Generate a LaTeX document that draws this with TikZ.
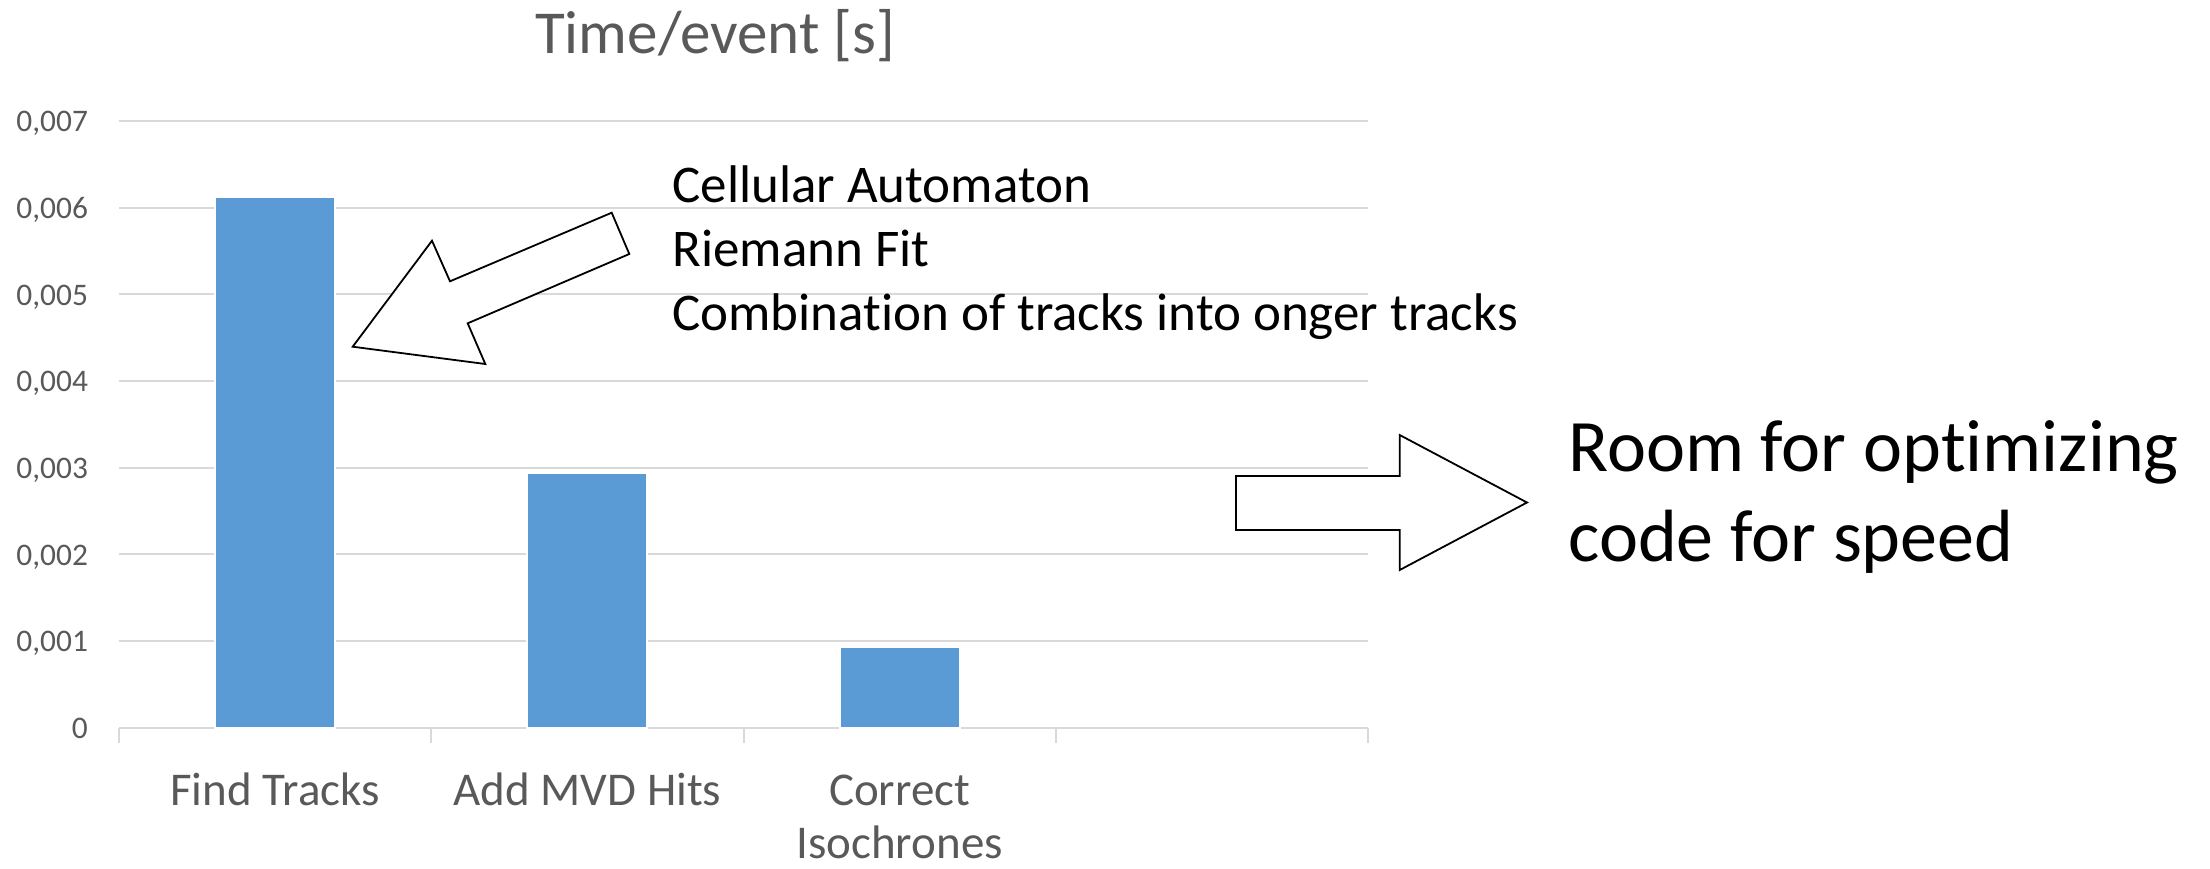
\documentclass[tikz,border=0pt]{standalone}
\usepackage{fontspec}
\setmainfont[Ligatures=NoCommon]{Carlito}
\definecolor{barblue}{HTML}{5B9BD5}
\definecolor{gridgray}{HTML}{D9D9D9}
\definecolor{axistext}{HTML}{595959}

\begin{document}
\begin{tikzpicture}[x=0.5pt,y=-0.5pt,
  gridline/.style={draw=gridgray,line width=1pt},
  bar/.style={fill=barblue,draw=white,line width=1pt},
  ylab/.style={anchor=base east,inner sep=0,text=axistext,font=\fontsize{15.7}{19}\selectfont},
  catlab/.style={anchor=base,inner sep=0,text=axistext,font=\fontsize{23.5}{28.7}\selectfont},
  charttitle/.style={anchor=base,inner sep=0,text=axistext,font=\fontsize{30.5}{37}\selectfont},
  note/.style={anchor=base west,inner sep=0,font=\fontsize{26.5}{32}\selectfont},
  bignote/.style={anchor=base west,inner sep=0,font=\fontsize{37}{44.65}\selectfont},
  blockarrow/.style={draw=black,fill=white,line width=0.9pt,line join=miter}]

% canvas
\useasboundingbox (0,0) rectangle (2210,868);

% title
\node[charttitle] (title) at (715,53.3) {Time/event [s]};

% horizontal grid and value labels
\foreach \v/\lab in {0/0,1/{0,001},2/{0,002},3/{0,003},4/{0,004},5/{0,005},6/{0,006},7/{0,007}}{
  \pgfmathsetmacro{\gy}{727.7-\v*86.67}
  \draw[gridline] (119,\gy) -- (1368,\gy);
  \node[ylab] (ylab\v) at (88.3,\gy+10.7) {\lab};
}

% category ticks below the axis
\foreach \k in {0,...,4}{
  \pgfmathsetmacro{\tx}{119+\k*312.25}
  \draw[gridline] (\tx,727.7) -- (\tx,743);
}

% bars
\draw[bar] (215.1,727.7) rectangle (335.1,197);
\draw[bar] (527.4,727.7) rectangle (647.4,473);
\draw[bar] (839.6,727.7) rectangle (959.6,646.7);

% category labels
\node[catlab] (cat1) at (275.1,805) {Find Tracks};
\node[catlab] (cat2) at (587.4,805) {Add MVD Hits};
\node[catlab] (cat3a) at (899.6,805) {Correct};
\node[catlab] (cat3b) at (899.6,858) {Isochrones};

% annotation on the tracking step
\node[note] (n1) at (672,202.3) {Cellular Automaton};
\node[note] (n2) at (672,266.3) {Riemann Fit};
\node[note] (n3) at (672,330.3) {Combination of tracks into onger tracks};

\draw[blockarrow] (611.7,212.7) -- (629.3,254) -- (467.7,323.3) -- (485.3,364)
  -- (352.7,346.7) -- (432,240.7) -- (450,281.3) -- cycle;

% conclusion
\draw[blockarrow] (1236,476) -- (1399.7,476) -- (1399.7,435) -- (1527,502.5)
  -- (1399.7,570) -- (1399.7,530) -- (1236,530) -- cycle;

\node[bignote] (r1) at (1568,471.7) {Room for optimizing};
\node[bignote] (r2) at (1568,561) {code for speed};
\end{tikzpicture}
\end{document}
